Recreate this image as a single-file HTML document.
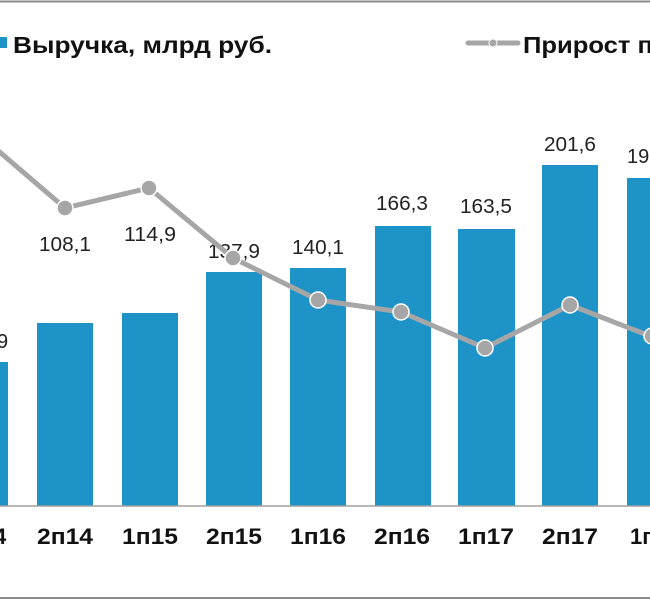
<!DOCTYPE html>
<html><head><meta charset="utf-8"><style>
html,body{margin:0;padding:0;background:#fff;}
svg{display:block;font-family:"Liberation Sans",Arial,sans-serif;}
</style></head><body>
<svg width="650" height="600" viewBox="0 0 650 600">
<rect x="0" y="0" width="650" height="600" fill="#fff"/>
<line x1="0" y1="1.5" x2="650" y2="1.5" stroke="#8c8c8c" stroke-width="2"/>
<line x1="0" y1="598" x2="650" y2="598" stroke="#8c8c8c" stroke-width="2"/>
<!-- legend -->
<rect x="0" y="37" width="7" height="11" fill="#1e93c8"/>
<text x="13" y="53" font-size="23" font-weight="bold" fill="#111" textLength="259" lengthAdjust="spacingAndGlyphs">Выручка, млрд руб.</text>
<line x1="468" y1="43" x2="518" y2="43" stroke="#a6a6a6" stroke-width="5" stroke-linecap="round"/>
<circle cx="493" cy="43" r="4" fill="#a6a6a6" stroke="#fff" stroke-width="1"/>
<text x="523" y="53" font-size="23" font-weight="bold" fill="#111" textLength="130" lengthAdjust="spacingAndGlyphs">Прирост п</text>
<!-- bars -->
<g fill="#1e93c8">
<rect x="-20" y="362" width="28" height="144"/>
<rect x="37" y="323" width="56" height="183"/>
<rect x="122" y="313" width="56" height="193"/>
<rect x="206" y="272" width="56" height="234"/>
<rect x="290" y="268" width="56" height="238"/>
<rect x="375" y="226" width="56" height="280"/>
<rect x="458" y="229" width="57" height="277"/>
<rect x="542" y="165" width="56" height="341"/>
<rect x="627" y="178" width="56" height="328"/>
</g>
<line x1="0" y1="506" x2="650" y2="506" stroke="#a0a0a0" stroke-width="1.5"/>
<!-- value labels -->
<g font-size="20" fill="#222" text-anchor="middle" lengthAdjust="spacingAndGlyphs">
<text x="65" y="251" textLength="52" lengthAdjust="spacingAndGlyphs">108,1</text>
<text x="150" y="241" textLength="52" lengthAdjust="spacingAndGlyphs">114,9</text>
<text x="234" y="258" textLength="52" lengthAdjust="spacingAndGlyphs">137,9</text>
<text x="318" y="254" textLength="52" lengthAdjust="spacingAndGlyphs">140,1</text>
<text x="402" y="210" textLength="52" lengthAdjust="spacingAndGlyphs">166,3</text>
<text x="486" y="213" textLength="52" lengthAdjust="spacingAndGlyphs">163,5</text>
<text x="570" y="151" textLength="52" lengthAdjust="spacingAndGlyphs">201,6</text>
<text x="627" y="163" text-anchor="start">19</text>
<text x="-3" y="348" text-anchor="start">9</text>
</g>
<!-- line -->
<polyline points="-5,148 65,208 149,188 233,258 318,300 401,312 485,348 570,305 655,338" fill="none" stroke="#a6a6a6" stroke-width="5" stroke-linejoin="round"/>
<g fill="#a6a6a6" stroke="#fff" stroke-width="1.5">
<circle cx="65" cy="208" r="8"/>
<circle cx="149" cy="188" r="8"/>
<circle cx="233" cy="258" r="8"/>
<circle cx="318" cy="300" r="8"/>
<circle cx="401" cy="312" r="8"/>
<circle cx="485" cy="348" r="8"/>
<circle cx="570" cy="305" r="8"/>
<circle cx="652" cy="336" r="8"/>
</g>
<!-- axis labels -->
<g font-size="22" font-weight="bold" fill="#111" text-anchor="middle">
<text x="-6" y="544" text-anchor="start">4</text>
<text x="65" y="544" textLength="56" lengthAdjust="spacingAndGlyphs">2п14</text>
<text x="150" y="544" textLength="56" lengthAdjust="spacingAndGlyphs">1п15</text>
<text x="234" y="544" textLength="56" lengthAdjust="spacingAndGlyphs">2п15</text>
<text x="318" y="544" textLength="56" lengthAdjust="spacingAndGlyphs">1п16</text>
<text x="402" y="544" textLength="56" lengthAdjust="spacingAndGlyphs">2п16</text>
<text x="486" y="544" textLength="56" lengthAdjust="spacingAndGlyphs">1п17</text>
<text x="570" y="544" textLength="56" lengthAdjust="spacingAndGlyphs">2п17</text>
<text x="630" y="544" text-anchor="start">1п</text>
</g>
</svg>
</body></html>
